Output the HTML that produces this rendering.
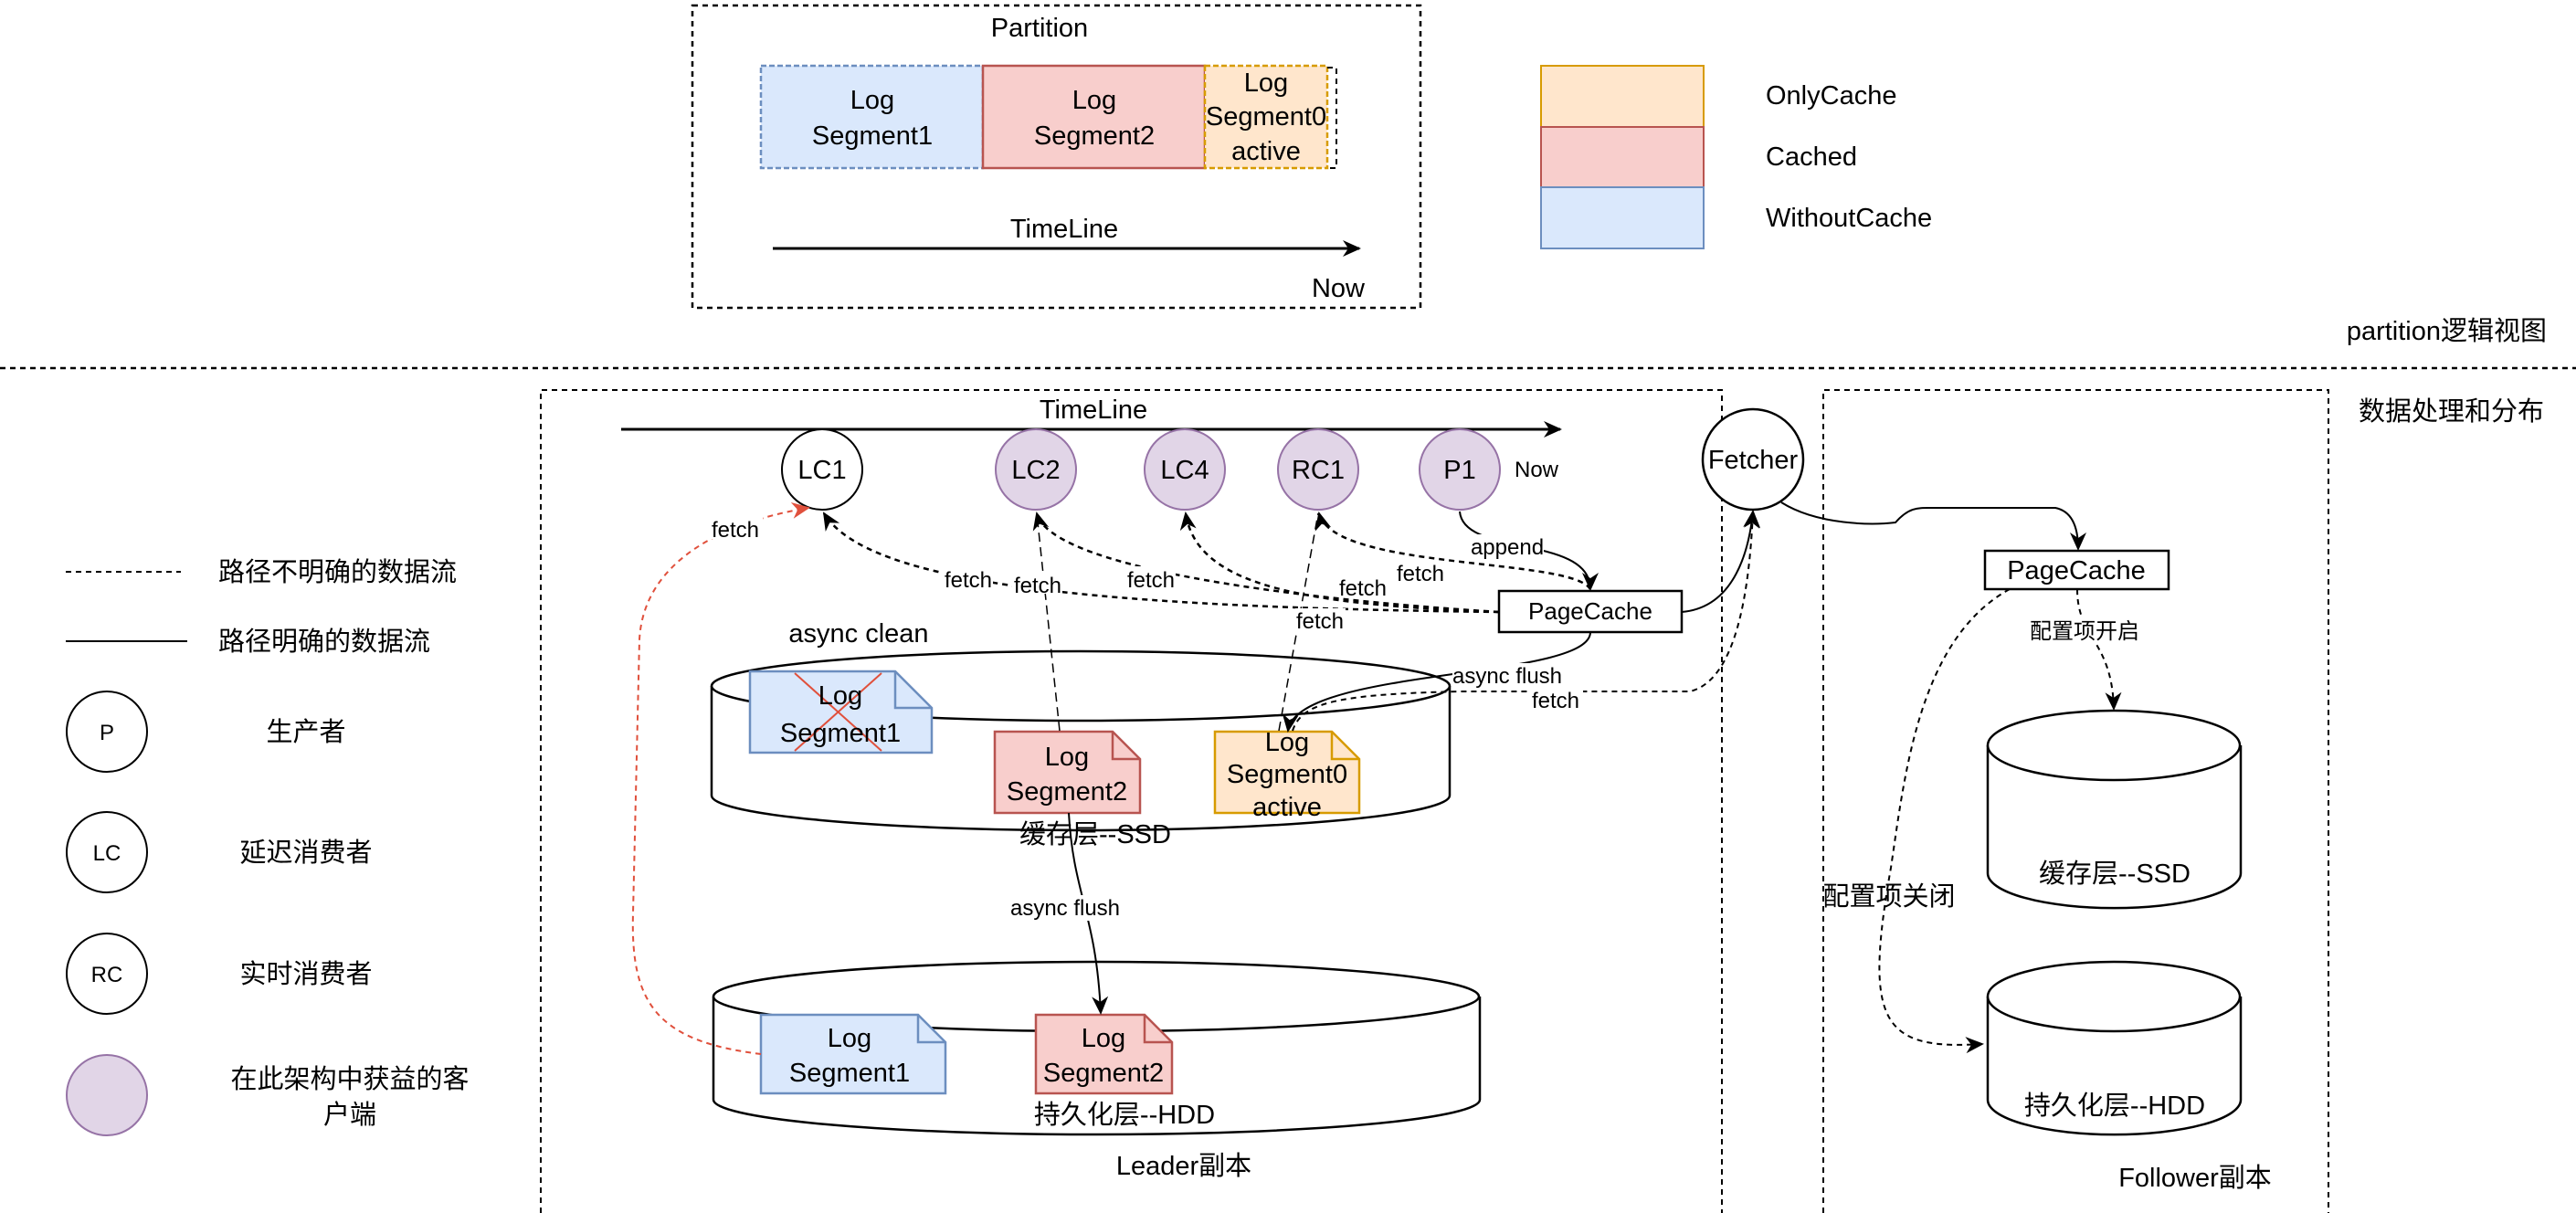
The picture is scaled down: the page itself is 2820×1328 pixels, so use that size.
<!DOCTYPE html>
<html><head><meta charset="utf-8"><style>
html,body{margin:0;padding:0;background:#fff}
svg{display:block}
text{font-family:"Liberation Sans","Noto Sans CJK SC",sans-serif;fill:#000}
</style></head><body>
<svg width="2820" height="1328" viewBox="0 0 2820 1328" xmlns="http://www.w3.org/2000/svg">
<defs>
<marker id="a" markerWidth="10" markerHeight="10" refX="8" refY="5" orient="auto" markerUnits="userSpaceOnUse" viewBox="0 0 10 10"><path d="M0,0 L10,5 L0,10 L3,5 z" fill="#000"/></marker>
<marker id="ab" markerWidth="22" markerHeight="22" refX="18" refY="11" orient="auto" markerUnits="userSpaceOnUse" viewBox="0 0 22 22"><path d="M0,2 L20,11 L0,20 L6,11 z" fill="#000"/></marker>
<marker id="ar" markerWidth="22" markerHeight="22" refX="18" refY="11" orient="auto" markerUnits="userSpaceOnUse" viewBox="0 0 22 22"><path d="M0,2 L20,11 L0,20 L6,11 z" fill="#e0503c"/></marker>
</defs>
<g fill="none" stroke="#000" stroke-width="2.5">
<!-- top partition box -->
<rect x="758" y="6" width="797" height="331" stroke-dasharray="6,5"/>
<line x1="0" y1="403" x2="2820" y2="403" stroke-dasharray="6,5"/>
<!-- leader / follower boxes -->
<path d="M592,1328 V427 H1885 V1328" stroke-dasharray="6,5" stroke-width="2"/>
<path d="M1996,1328 V427 H2549 V1328" stroke-dasharray="6,5" stroke-width="2"/>
</g>
<!-- partition segments -->
<rect x="833" y="72" width="243" height="112" fill="#dae8fc" stroke="#6c8ebf" stroke-width="2.5" stroke-dasharray="6,3"/>
<rect x="1076" y="72" width="243" height="112" fill="#f8cecc" stroke="#b85450" stroke-width="2.5"/>
<rect x="1319" y="72" width="134" height="112" fill="#ffe6cc" stroke="#d79b00" stroke-width="2.5" stroke-dasharray="6,3"/>
<path d="M1453,74 H1463 V184 H1453" fill="none" stroke="#000" stroke-width="2" stroke-dasharray="6,5"/>
<g font-size="29" text-anchor="middle">
<text x="1138" y="40">Partition</text>
<text x="955" y="119">Log</text><text x="955" y="158">Segment1</text>
<text x="1198" y="119">Log</text><text x="1198" y="158">Segment2</text>
<text x="1386" y="100">Log</text><text x="1386" y="137">Segment0</text><text x="1386" y="175">active</text>
<text x="1165" y="260">TimeLine</text>
<text x="1465" y="325">Now</text>
</g>
<line x1="846" y1="272" x2="1488" y2="272" stroke="#000" stroke-width="3" marker-end="url(#ab)"/>
<!-- legend rects -->
<rect x="1687" y="72" width="178" height="67" fill="#ffe6cc" stroke="#d79b00" stroke-width="2"/>
<rect x="1687" y="139" width="178" height="66" fill="#f8cecc" stroke="#b85450" stroke-width="2"/>
<rect x="1687" y="205" width="178" height="67" fill="#dae8fc" stroke="#6c8ebf" stroke-width="2"/>
<g font-size="29">
<text x="1933" y="114">OnlyCache</text>
<text x="1933" y="181">Cached</text>
<text x="1933" y="248">WithoutCache</text>
<text x="2788" y="372" text-anchor="end">partition逻辑视图</text>
<text x="2785" y="460" text-anchor="end">数据处理和分布</text>
</g>
<!-- left legend -->
<line x1="72" y1="626" x2="198" y2="626" stroke="#000" stroke-width="2" stroke-dasharray="6,5"/>
<line x1="72" y1="702" x2="205" y2="702" stroke="#000" stroke-width="2"/>
<g font-size="29">
<text x="239" y="636">路径不明确的数据流</text>
<text x="239" y="712">路径明确的数据流</text>
</g>
<circle cx="117" cy="801" r="44" fill="#fff" stroke="#000" stroke-width="2"/>
<circle cx="117" cy="933" r="44" fill="#fff" stroke="#000" stroke-width="2"/>
<circle cx="117" cy="1066" r="44" fill="#fff" stroke="#000" stroke-width="2"/>
<circle cx="117" cy="1199" r="44" fill="#e1d5e7" stroke="#9673a6" stroke-width="2"/>
<g font-size="24" text-anchor="middle">
<text x="117" y="810">P</text><text x="117" y="942">LC</text><text x="117" y="1075">RC</text>
</g>
<g font-size="29" text-anchor="middle">
<text x="335" y="811">生产者</text>
<text x="335" y="943">延迟消费者</text>
<text x="335" y="1076">实时消费者</text>
<text x="383" y="1191">在此架构中获益的客</text>
<text x="383" y="1230">户端</text>
</g>
<!-- leader timeline -->
<text x="1197" y="458" font-size="29" text-anchor="middle">TimeLine</text>
<line x1="680" y1="470" x2="1708" y2="470" stroke="#000" stroke-width="3" marker-end="url(#ab)"/>
<circle cx="900" cy="514" r="44" fill="#fff" stroke="#000" stroke-width="2"/>
<circle cx="1134" cy="514" r="44" fill="#e1d5e7" stroke="#9673a6" stroke-width="2"/>
<circle cx="1297" cy="514" r="44" fill="#e1d5e7" stroke="#9673a6" stroke-width="2"/>
<circle cx="1443" cy="514" r="44" fill="#e1d5e7" stroke="#9673a6" stroke-width="2"/>
<circle cx="1598" cy="514" r="44" fill="#e1d5e7" stroke="#9673a6" stroke-width="2"/>
<circle cx="1919" cy="503" r="55" fill="#fff" stroke="#000" stroke-width="2.5"/>
<g font-size="29" text-anchor="middle">
<text x="900" y="524">LC1</text><text x="1134" y="524">LC2</text><text x="1297" y="524">LC4</text><text x="1443" y="524">RC1</text><text x="1598" y="524">P1</text>
<text x="1919" y="513">Fetcher</text>
</g>
<text x="1658" y="522" font-size="24">Now</text>
<!-- cylinders -->
<g stroke="#000" stroke-width="2.5" fill="#fff">
<path d="M779,751 V871 A404,38 0 0 0 1587,871 V751"/>
<ellipse cx="1183" cy="751" rx="404" ry="38"/>
<path d="M781,1091 V1204 A419,38 0 0 0 1620,1204 V1091"/>
<ellipse cx="1200" cy="1091" rx="419" ry="38"/>
<path d="M2176,816 V956 A138,38 0 0 0 2453,956 V816"/>
<ellipse cx="2314" cy="816" rx="138" ry="38"/>
<path d="M2176,1091 V1204 A138,38 0 0 0 2453,1204 V1091"/>
<ellipse cx="2314" cy="1091" rx="138" ry="38"/>
</g>
<!-- docs -->
<g stroke-width="2.5">
<path d="M821,735 H980 L1020,775 V824 H821 Z" fill="#dae8fc" stroke="#6c8ebf"/>
<path d="M980,735 V775 H1020" fill="none" stroke="#6c8ebf"/>
<path d="M1089,801 H1218 L1248,831 V890 H1089 Z" fill="#f8cecc" stroke="#b85450"/>
<path d="M1218,801 V831 H1248" fill="none" stroke="#b85450"/>
<path d="M1330,801 H1458 L1488,831 V890 H1330 Z" fill="#ffe6cc" stroke="#d79b00"/>
<path d="M1458,801 V831 H1488" fill="none" stroke="#d79b00"/>
<path d="M833,1111 H1005 L1035,1141 V1197 H833 Z" fill="#dae8fc" stroke="#6c8ebf"/>
<path d="M1005,1111 V1141 H1035" fill="none" stroke="#6c8ebf"/>
<path d="M1134,1111 H1253 L1283,1141 V1197 H1134 Z" fill="#f8cecc" stroke="#b85450"/>
<path d="M1253,1111 V1141 H1283" fill="none" stroke="#b85450"/>
</g>
<line x1="870" y1="737" x2="965" y2="822" stroke="#e0503c" stroke-width="2"/>
<line x1="965" y1="737" x2="870" y2="822" stroke="#e0503c" stroke-width="2"/>
<g font-size="29" text-anchor="middle">
<text x="920" y="771">Log</text><text x="920" y="812">Segment1</text>
<text x="1168" y="838">Log</text><text x="1168" y="876">Segment2</text>
<text x="1409" y="822">Log</text><text x="1409" y="857">Segment0</text><text x="1409" y="893">active</text>
<text x="930" y="1146">Log</text><text x="930" y="1184">Segment1</text>
<text x="1208" y="1146">Log</text><text x="1208" y="1184">Segment2</text>
<text x="940" y="703">async clean</text>
<text x="1199" y="923">缓存层--SSD</text>
<text x="1231" y="1230">持久化层--HDD</text>
<text x="1296" y="1286">Leader副本</text>
<text x="2315" y="966">缓存层--SSD</text>
<text x="2315" y="1220">持久化层--HDD</text>
<text x="2403" y="1299">Follower副本</text>
<text x="2068" y="991">配置项关闭</text>
</g>
<!-- PageCache boxes -->
<rect x="1641" y="647" width="200" height="45" fill="#fff" stroke="#000" stroke-width="2.5"/>
<text x="1741" y="678" font-size="26" text-anchor="middle">PageCache</text>
<rect x="2173" y="603" width="201" height="42" fill="#fff" stroke="#000" stroke-width="2.5"/>
<text x="2273" y="634" font-size="29" text-anchor="middle">PageCache</text>
<!-- connectors -->
<g fill="none" stroke="#000" stroke-width="2.5">
<path d="M1641,670 C1200,665 950,640 902,562" stroke-dasharray="6,5" marker-end="url(#ab)"/>
<path d="M1641,670 C1400,655 1150,620 1135,562" stroke-dasharray="6,5" marker-end="url(#ab)"/>
<path d="M1641,670 C1420,662 1310,640 1298,562" stroke-dasharray="6,5" marker-end="url(#ab)"/>
<path d="M1741,645 C1720,610 1460,625 1444,562" stroke-dasharray="6,5" marker-end="url(#ab)"/>
<path d="M1160,800 L1135,562" stroke-dasharray="10,6" stroke-width="1.5"/>
<path d="M1400,800 L1443,562" stroke-dasharray="10,6" stroke-width="1.5"/>
<path d="M1598,560 C1602,610 1741,585 1741,645" marker-end="url(#ab)" stroke-width="2"/>
<path d="M1841,670 C1900,665 1915,600 1919,560" marker-end="url(#ab)" stroke-width="2"/>
<path d="M1741,692 C1741,745 1420,730 1410,800" marker-end="url(#ab)" stroke-width="2"/>
<path d="M1415,800 C1425,770 1460,760 1600,757 L1850,757 C1900,745 1915,650 1919,560" stroke-dasharray="6,5" stroke-width="2" marker-end="url(#ab)"/>
<path d="M1170,890 C1175,980 1200,1000 1205,1109" marker-end="url(#ab)" stroke-width="2"/>
<path d="M833,1154 C720,1140 690,1100 693,1000 L700,700 C705,610 800,570 885,556" stroke="#e0503c" stroke-dasharray="6,5" stroke-width="2" marker-end="url(#ar)"/>
<path d="M1950,550 C1990,575 2050,575 2075,572 C2090,555 2100,556 2115,556 L2250,556 C2270,560 2275,580 2275,601" marker-end="url(#ab)" stroke-width="2"/>
<path d="M2274,645 C2274,700 2312,700 2314,776" stroke-dasharray="6,5" stroke-width="2" marker-end="url(#ab)"/>
<path d="M2200,645 C2100,700 2085,850 2070,950 C2040,1120 2060,1150 2170,1143" stroke-dasharray="6,5" stroke-width="2" marker-end="url(#ab)"/>
</g>
<!-- labels -->
<g font-size="24" text-anchor="middle">
<g fill="#fff" stroke="none">
<rect x="1032" y="620" width="55" height="24"/><rect x="1108" y="626" width="55" height="24"/><rect x="1232" y="620" width="55" height="24"/>
<rect x="1465" y="630" width="55" height="24"/><rect x="1527" y="614" width="55" height="24"/><rect x="1418" y="666" width="55" height="24"/>
<rect x="1612" y="585" width="78" height="26"/><rect x="1590" y="726" width="120" height="26"/><rect x="1673" y="753" width="60" height="24"/>
<rect x="1096" y="980" width="140" height="28"/><rect x="2215" y="676" width="130" height="28"/><rect x="775" y="566" width="60" height="24"/>
</g>
<text x="1060" y="643">fetch</text><text x="1136" y="649">fetch</text><text x="1260" y="643">fetch</text>
<text x="1492" y="652">fetch</text><text x="1555" y="636">fetch</text><text x="1445" y="688">fetch</text>
<text x="1650" y="607">append</text><text x="1650" y="748">async flush</text><text x="1703" y="775">fetch</text>
<text x="1166" y="1002">async flush</text><text x="2282" y="699">配置项开启</text><text x="805" y="588">fetch</text>
</g>
</svg>
</body></html>
